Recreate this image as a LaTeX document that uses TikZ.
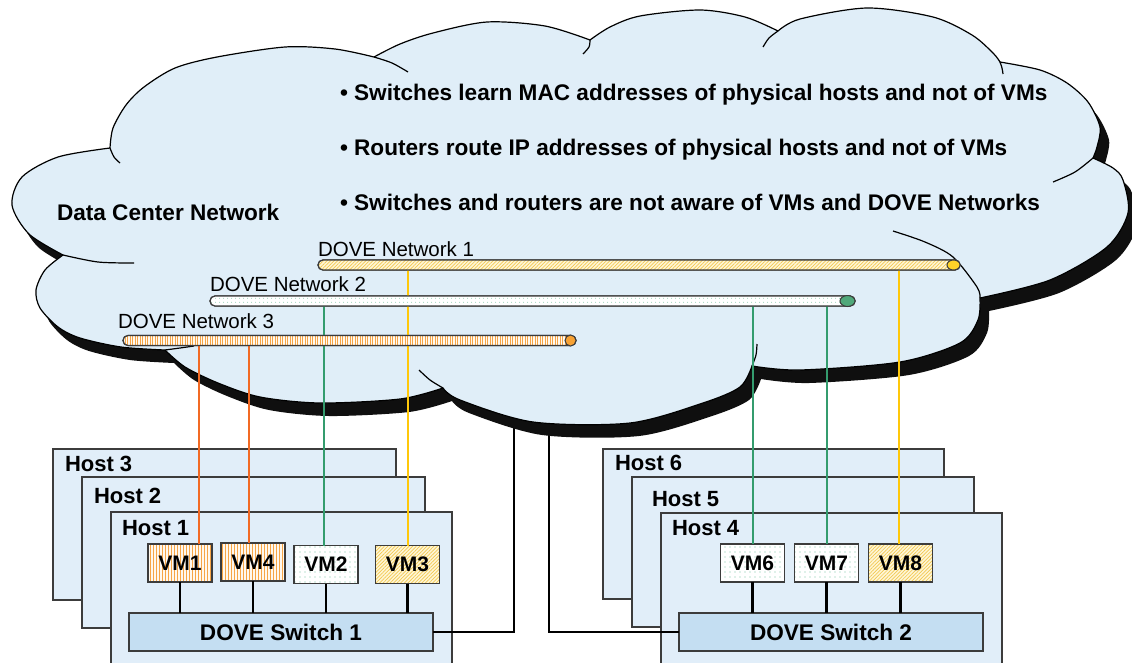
\documentclass[tikz,border=0pt]{standalone}
\usepackage{fontspec}
\setmainfont{Liberation Sans}
\usetikzlibrary{shapes.geometric,patterns.meta,calc}
\definecolor{cloudfill}{RGB}{224,238,248}
\definecolor{shadowblack}{RGB}{15,15,15}
\definecolor{hostfill}{RGB}{225,238,249}
\definecolor{switchfill}{RGB}{196,222,242}
\definecolor{edgegray}{RGB}{60,60,60}
\definecolor{orline}{RGB}{242,106,36}
\definecolor{orpat}{RGB}{246,165,70}
\definecolor{orcap}{RGB}{248,162,52}
\definecolor{orbg}{RGB}{255,248,238}
\definecolor{grline}{RGB}{52,156,110}
\definecolor{grpat}{RGB}{120,195,160}
\definecolor{grcap}{RGB}{80,168,122}
\definecolor{yeline}{RGB}{255,200,10}
\definecolor{yepat}{RGB}{242,200,80}
\definecolor{yebg}{RGB}{255,246,215}
\definecolor{yecap}{RGB}{255,210,40}

% cloud outline; #1,#2 = offset (used for the drop shadow)
\def\cloudpath#1#2{plot[smooth] coordinates {(63+#1,255+#2) (29+#1,234+#2) (12+#1,205+#2) (22+#1,177+#2) (58+#1,157+#2) (110+#1,148+#2)}
 -- plot[smooth] coordinates {(110+#1,148+#2) (113+#1,128+#2) (126+#1,105+#2) (144+#1,87+#2) (175+#1,68+#2) (217+#1,57+#2) (285+#1,47+#2) (335+#1,49+#2) (374+#1,57+#2)}
 -- plot[smooth] coordinates {(374+#1,57+#2) (400+#1,44+#2) (433+#1,33+#2) (487+#1,22+#2) (545+#1,26+#2) (590+#1,40+#2)}
 -- plot[smooth] coordinates {(590+#1,40+#2) (610+#1,27+#2) (640+#1,16+#2) (700+#1,10+#2) (745+#1,17+#2) (778+#1,31+#2)}
 -- plot[smooth] coordinates {(778+#1,31+#2) (800+#1,19+#2) (867+#1,8+#2) (933+#1,17+#2) (972+#1,35+#2) (993+#1,53+#2) (1000+#1,62+#2)}
 -- plot[smooth] coordinates {(1000+#1,62+#2) (1040+#1,70+#2) (1067+#1,83+#2) (1088+#1,102+#2) (1100+#1,127+#2) (1097+#1,147+#2) (1093+#1,158+#2)}
 -- plot[smooth] coordinates {(1093+#1,158+#2) (1113+#1,168+#2) (1123+#1,180+#2) (1128+#1,213+#2) (1107+#1,247+#2) (1050+#1,280+#2) (980+#1,298+#2)}
 -- plot[smooth] coordinates {(980+#1,298+#2) (978+#1,320+#2) (960+#1,343+#2) (900+#1,362+#2) (800+#1,370+#2) (752+#1,366+#2)}
 -- plot[smooth] coordinates {(752+#1,366+#2) (740+#1,387+#2) (703+#1,403+#2) (630+#1,423+#2) (533+#1,422+#2) (460+#1,400+#2) (443+#1,388+#2)}
 -- plot[smooth] coordinates {(443+#1,388+#2) (400+#1,399+#2) (320+#1,403+#2) (260+#1,397+#2) (218+#1,383+#2) (185+#1,367+#2) (165+#1,350+#2)}
 -- plot[smooth] coordinates {(165+#1,350+#2) (121+#1,347+#2) (80+#1,338+#2) (58+#1,327+#2) (40+#1,308+#2) (36+#1,290+#2) (45+#1,270+#2) (63+#1,255+#2)}
 -- cycle}

\begin{document}
\begin{tikzpicture}[x=1pt,y=-1pt,
  every node/.style={inner sep=0pt, outer sep=0pt},
  hostbox/.style={draw=edgegray, line width=1.4pt, fill=hostfill, anchor=north west},
  hostlbl/.style={anchor=base west, font=\fontsize{22}{26}\selectfont\bfseries},
  bigtxt/.style={anchor=base west, font=\fontsize{22.6}{27}\selectfont\bfseries},
  netlbl/.style={anchor=base west, font=\fontsize{20.5}{24}\selectfont},
  vmbox/.style={draw=edgegray, line width=1.2pt, minimum width=64pt, minimum height=38pt, font=\fontsize{21}{25}\selectfont\bfseries},
  vmor/.style={vmbox, preaction={fill=orbg}, pattern={Lines[angle=90,distance=3pt,line width=0.7pt]}, pattern color=orpat},
  vmgr/.style={vmbox, preaction={fill=white}, pattern={Dots[distance=5pt,radius=0.6pt]}, pattern color=grpat},
  vmye/.style={vmbox, preaction={fill=yebg}, pattern={Lines[angle=45,distance=2.5pt,line width=0.7pt]}, pattern color=yepat},
  switchbox/.style={draw=edgegray, line width=1.3pt, fill=switchfill, minimum width=304pt, minimum height=38pt, font=\fontsize{22.6}{27}\selectfont\bfseries},
  tube/.style={draw=edgegray, line width=1.2pt, rounded corners=5pt, minimum height=10pt},
  capnode/.style={ellipse, draw=edgegray, line width=1pt, minimum width=13pt, minimum height=10pt},
  cloudline/.style={draw=black, line width=1.2pt, line join=round},
  vmlink/.style={draw=black, line width=2.4pt},
  swconn/.style={draw=black, line width=2.6pt},
  orl/.style={draw=orline, line width=2.6pt},
  grl/.style={draw=grline, line width=2.6pt},
  yel/.style={draw=yeline, line width=2.6pt}
]
\clip (0,0) rectangle (1132,662);
\fill[white] (0,0) rectangle (1132,662);

% hosts
\node[hostbox, minimum width=343pt, minimum height=151pt] (host3) at (53,449) {};
\node[hostbox, minimum width=343pt, minimum height=151pt] (host2) at (82,477) {};
\node[hostbox, minimum width=341pt, minimum height=160pt] (host1) at (111,512) {};
\node[hostbox, minimum width=341pt, minimum height=150pt] (host6) at (603,449) {};
\node[hostbox, minimum width=342pt, minimum height=150pt] (host5) at (632,477) {};
\node[hostbox, minimum width=341pt, minimum height=160pt] (host4) at (661,513) {};
\node[hostlbl] at (65,471) {Host 3};
\node[hostlbl] at (94,503) {Host 2};
\node[hostlbl] at (122,535) {Host 1};
\node[hostlbl] at (615,470) {Host 6};
\node[hostlbl] at (652,506) {Host 5};
\node[hostlbl] at (672,535) {Host 4};

% switches
\node[switchbox] (sw1) at (281,632) {DOVE Switch 1};
\node[switchbox] (sw2) at (831,632) {DOVE Switch 2};

% switch uplinks (run up under the cloud)
\coordinate (up1) at (514,420);
\coordinate (up2) at (549,420);
\draw[swconn] (sw1.east) -| (up1);
\draw[swconn] (sw2.west) -| (up2);

% cloud with drop shadow
\fill[shadowblack] \cloudpath{9}{13};
\fill[cloudfill] \cloudpath{0}{0};
\draw[cloudline] \cloudpath{0}{0};
\draw[cloudline] plot[smooth] coordinates {(63,255) (98,262) (134,263)};
\draw[cloudline] plot[smooth] coordinates {(110,148) (114,157) (120,163)};
\draw[cloudline] plot[smooth] coordinates {(374,57) (392,63) (408,72)};
\draw[cloudline] plot[smooth] coordinates {(590,40) (589,47) (583,54)};
\draw[cloudline] plot[smooth] coordinates {(778,31) (769,38) (763,47)};
\draw[cloudline] plot[smooth] coordinates {(1000,62) (1002,68) (1003,74)};
\draw[cloudline] plot[smooth] coordinates {(1093,158) (1075,172) (1053,182)};
\draw[cloudline] plot[smooth] coordinates {(980,298) (977,287) (953,257) (925,242) (893,231)};
\draw[cloudline] plot[smooth] coordinates {(752,366) (756,355) (757,344)};
\draw[cloudline] plot[smooth] coordinates {(443,388) (430,380) (419,370)};
\draw[cloudline] plot[smooth] coordinates {(165,350) (180,348) (194,346)};

% texts in cloud
\node[bigtxt] at (57,220) {Data Center Network};
\node[bigtxt] at (340,100) {• Switches learn MAC addresses of physical hosts and not of VMs};
\node[bigtxt] at (340,155) {• Routers route IP addresses of physical hosts and not of VMs};
\node[bigtxt] at (340,210) {• Switches and routers are not aware of VMs and DOVE Networks};

% VMs
\node[vmor] (vm1) at (180,563) {VM1};
\node[vmor] (vm4) at (253,562) {VM4};
\node[vmgr] (vm2) at (326,564.5) {VM2};
\node[vmye] (vm3) at (407.5,564.5) {VM3};
\node[vmgr] (vm6) at (752.5,563) {VM6};
\node[vmgr] (vm7) at (826.5,563) {VM7};
\node[vmye] (vm8) at (900.5,563) {VM8};
\foreach \v/\s in {vm1/sw1,vm4/sw1,vm2/sw1,vm3/sw1,vm6/sw2,vm7/sw2,vm8/sw2}
  \draw[vmlink] (\v.south) -- (\v.south |- \s.north);

% DOVE networks
\coordinate (x1) at (199,0);
\coordinate (x4) at (249,0);
\coordinate (x2) at (324,0);
\coordinate (x3) at (408,0);
\coordinate (x6) at (753,0);
\coordinate (x7) at (827,0);
\coordinate (x8) at (899,0);
\path (639,265) node[tube, minimum width=642pt] (net1) {};
\path (532.5,301) node[tube, minimum width=645pt] (net2) {};
\path (349.5,340.5) node[tube, minimum width=453pt] (net3) {};

\draw[orl] (net3 -| x1) -- (vm1.north -| x1);
\draw[orl] (net3 -| x4) -- (vm4.north -| x4);
\draw[grl] (net2 -| x2) -- (vm2.north -| x2);
\draw[grl] (net2 -| x6) -- (vm6.north -| x6);
\draw[grl] (net2 -| x7) -- (vm7.north -| x7);
\draw[yel] (net1 -| x3) -- (vm3.north -| x3);
\draw[yel] (net1 -| x8) -- (vm8.north -| x8);

\node[tube, minimum width=642pt, preaction={fill=yebg}, pattern={Lines[angle=45,distance=2.5pt,line width=0.7pt]}, pattern color=yepat] at (net1) {};
\node[tube, minimum width=645pt, preaction={fill=white}, pattern={Dots[distance=4pt,radius=0.5pt]}, pattern color=grpat] at (net2) {};
\node[tube, minimum width=453pt, preaction={fill=orbg}, pattern={Lines[angle=90,distance=2.5pt,line width=0.6pt]}, pattern color=orpat] at (net3) {};
\node[capnode, fill=yecap] (cap1) at ($(net1.east)+(-6.5,0)$) {};
\node[capnode, fill=grcap, minimum width=15pt, minimum height=11pt] (cap2) at ($(net2.east)+(-7.5,0)$) {};
\node[capnode, fill=orcap, minimum width=11pt, minimum height=11pt] (cap3) at ($(net3.east)+(-5.5,0)$) {};

\node[netlbl] at (318,256) {DOVE Network 1};
\node[netlbl] at (210,291) {DOVE Network 2};
\node[netlbl] at (118,328) {DOVE Network 3};
\end{tikzpicture}
\end{document}
